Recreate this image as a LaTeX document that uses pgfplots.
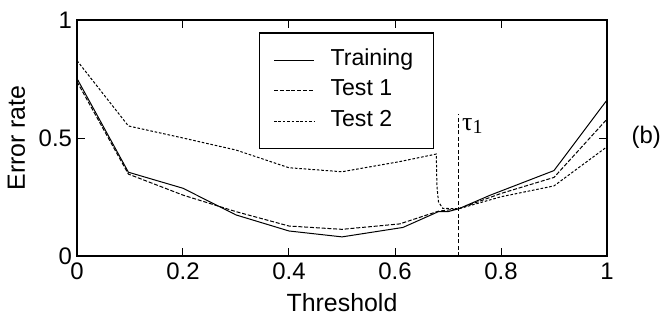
\documentclass[border=0pt]{standalone}
\usepackage{pgfplots}
\pgfplotsset{compat=1.18}
\usepackage{fontspec}
\setmainfont{Liberation Sans}
\newfontfamily\serif{Liberation Serif}
\begin{document}
\begin{tikzpicture}
\path[use as bounding box] (-38.5bp,-38bp) rectangle (291.5bp,128bp);
\begin{axis}[
  at={(0,0)}, anchor=south west,
  scale only axis, width=265bp, height=118bp,
  xmin=0, xmax=1, ymin=0, ymax=1,
  xtick={0,0.2,0.4,0.6,0.8,1},
  ytick={0,0.5,1},
  tick align=inside,
  tick style={black, line width=0.5bp},
  major tick length=4bp,
  axis line style={line width=0.75bp},
  /pgf/number format/assume math mode=true,
  ticklabel style={font=\fontsize{12}{14}\selectfont},
  yticklabel style={xshift=1bp},
  xlabel={Threshold}, ylabel={Error rate},
  label style={font=\fontsize{12.5}{14}\selectfont},
  ylabel style={yshift=0bp},
  clip=false,
  legend style={at={(0.343,0.949)}, anchor=north west,
    font=\fontsize{11.6}{13}\selectfont, draw=black, line width=0.75bp,
    row sep=0bp, column sep=0bp, inner xsep=7bp, inner ysep=6bp,
    nodes={inner sep=0pt, text height=10.15bp, text depth=5.1bp}},
  legend cell align=left,
  legend image code/.code={\draw[#1, line width=0.5bp] (0bp,0bp) -- (20bp,0bp); \path (28bp,0bp);},
]
\addplot[black, line width=0.5bp] coordinates {
(0,0.752) (0.097,0.355) (0.2,0.287) (0.3,0.174) (0.4,0.106) (0.5,0.081)
(0.615,0.121) (0.682,0.188) (0.70,0.188) (0.72,0.2) (0.78,0.258) (0.9,0.362) (1,0.661)};
\addlegendentry{\makebox[44.5bp][l]{Training}}
\addplot[black, line width=0.5bp, dash pattern=on 2bp off 0.9bp] coordinates {
(0,0.739) (0.097,0.347) (0.2,0.258) (0.3,0.188) (0.4,0.127) (0.5,0.113)
(0.609,0.136) (0.682,0.19) (0.72,0.2) (0.8,0.265) (0.9,0.333) (1,0.58)};
\addlegendentry{\makebox[44.5bp][l]{Test 1}}
\addplot[black, line width=0.5bp, dash pattern=on 1.3bp off 0.9bp] coordinates {
(0,0.828) (0.097,0.551) (0.194,0.503) (0.3,0.449) (0.4,0.374) (0.5,0.357)
(0.609,0.400) (0.678,0.432) (0.679,0.30) (0.682,0.23) (0.69,0.202) (0.72,0.2)
(0.8,0.251) (0.9,0.297) (1,0.463)};
\addlegendentry{\makebox[44.5bp][l]{Test 2}}
\draw[black, line width=0.5bp, dash pattern=on 2bp off 1.2bp] (axis cs:0.72,0) -- (axis cs:0.72,0.6);
\node[anchor=west, inner sep=0pt, font=\fontsize{13}{15}\selectfont] at (axis cs:0.726,0.55) {\serif τ\raisebox{-0.25ex}{\fontsize{10}{12}\selectfont 1}};
\node[font=\fontsize{12}{14}\selectfont] at (axis cs:1.074,0.504) {(b)};
\end{axis}
\end{tikzpicture}
\end{document}
